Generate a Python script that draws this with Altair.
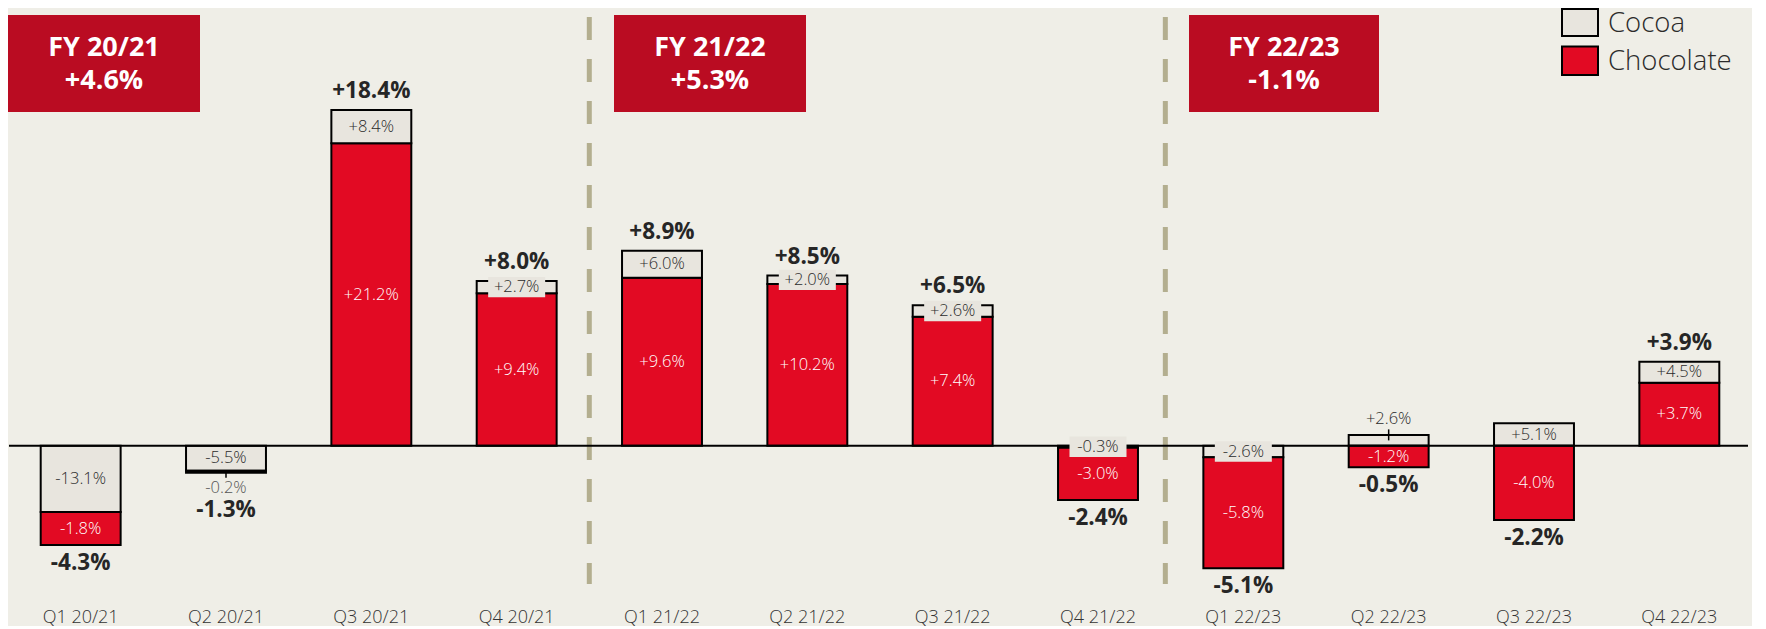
import altair as alt
import pandas as pd

# ---------------- data ----------------
quarters = ["Q1 20/21", "Q2 20/21", "Q3 20/21", "Q4 20/21",
            "Q1 21/22", "Q2 21/22", "Q3 21/22", "Q4 21/22",
            "Q1 22/23", "Q2 22/23", "Q3 22/23", "Q4 22/23"]
# contribution of each segment (bar heights)
cocoa_contrib = [-3.32, -1.25, 1.67, 0.62, 1.35, 0.43, 0.57, -0.10, -0.58, 0.53, 1.12, 1.05]
choc_contrib = [-1.65, -0.10, 15.12, 7.62, 8.40, 8.08, 6.45, -2.62, -5.55, -1.08, -3.72, 3.15]
# growth labels
cocoa_labels = ["-13.1%", "-5.5%", "+8.4%", "+2.7%", "+6.0%", "+2.0%", "+2.6%",
                "-0.3%", "-2.6%", "+2.6%", "+5.1%", "+4.5%"]
choc_labels = ["-1.8%", "-0.2%", "+21.2%", "+9.4%", "+9.6%", "+10.2%", "+7.4%",
               "-3.0%", "-5.8%", "-1.2%", "-4.0%", "+3.7%"]
total_labels = ["-4.3%", "-1.3%", "+18.4%", "+8.0%", "+8.9%", "+8.5%", "+6.5%",
                "-2.4%", "-5.1%", "-0.5%", "-2.2%", "+3.9%"]
fy_names = ["FY 20/21", "FY 21/22", "FY 22/23"]
fy_growth = ["+4.6%", "+5.3%", "-1.1%"]
series = ["Cocoa", "Chocolate"]
fy_first_quarter = ["Q1 21/22", "Q1 22/23"]

# label placement hints (layout, not data)
cocoa_place = ["in", "in", "in", "box", "in", "box", "box", "box", "box", "above", "in", "in"]
choc_place = ["in", "below", "in", "in", "in", "in", "in", "in", "in", "in", "in", "in"]

# ---------------- styles ----------------
FONT = "Open Sans"
BG = "#EFEEE7"
CHOC = "#E20A23"
COCOA = "#E8E5DE"
BOXRED = "#BA0C22"
DASH = "#B3AE8F"
DARK = "#262626"
W, H = 1744, 598
Y_DOMAIN = [-8.015, 21.885]

# ---------------- build tables ----------------
seg_rows, tot_rows = [], []
for i, q in enumerate(quarters):
    vals = {"Cocoa": cocoa_contrib[i], "Chocolate": choc_contrib[i]}
    labs = {"Cocoa": cocoa_labels[i], "Chocolate": choc_labels[i]}
    place = {"Cocoa": cocoa_place[i], "Chocolate": choc_place[i]}
    pos = neg = 0.0
    for s in ["Chocolate", "Cocoa"]:
        v = vals[s]
        if v > 0:
            seg_rows.append(dict(quarter=q, series=s, lo=pos, hi=pos + v, label=labs[s], place=place[s]))
            pos += v
    for s in ["Cocoa", "Chocolate"]:
        v = vals[s]
        if v < 0:
            seg_rows.append(dict(quarter=q, series=s, lo=neg, hi=neg + v, label=labs[s], place=place[s]))
            neg += v
    positive = total_labels[i].startswith("+")
    kind = "pos" if positive else ("far" if "below" in (cocoa_place[i], choc_place[i]) else "neg")
    tot_rows.append(dict(quarter=q, label=total_labels[i], anchor=pos if positive else neg, kind=kind))

seg = pd.DataFrame(seg_rows)
seg["mid"] = (seg["lo"] + seg["hi"]) / 2
seg["tcolor"] = [
    "#555555" if p == "below" else ("#FFFFFF" if s == "Chocolate" else "#2B2B2B")
    for s, p in zip(seg["series"], seg["place"])
]
tot = pd.DataFrame(tot_rows)

X_ENC = alt.X(
    "quarter:N", sort=quarters,
    scale=alt.Scale(domain=quarters, paddingInner=0.45, paddingOuter=0.225),
    axis=alt.Axis(title=None, labelAngle=0, domain=False, ticks=False, grid=False,
                  labelPadding=11, labelFontSize=18, labelFont=FONT, labelColor="#333333",
                  labelBaseline="middle", labelFontWeight=300),
)
Y_SCALE = alt.Scale(domain=Y_DOMAIN, nice=False, zero=False)


def Y(field):
    return alt.Y(field, type="quantitative", scale=Y_SCALE, axis=None)


layers = []

# dashed fiscal-year separators
for q, off in zip(fy_first_quarter, [-72.7, -78.0]):
    layers.append(alt.Chart(pd.DataFrame({"quarter": [q]})).mark_rule(
        color=DASH, strokeWidth=5, strokeDash=[23, 19], xOffset=off
    ).encode(x=X_ENC, y=alt.value(9), y2=alt.value(576)))

# FY boxes
box_x = [(0, 192), (606, 798), (1181, 1371)]
for i, (n, g) in enumerate(zip(fy_names, fy_growth)):
    d = pd.DataFrame({"n": [n], "g": [g]})
    x0, x1 = box_x[i]
    layers.append(alt.Chart(d).mark_rect(color=BOXRED).encode(
        x=alt.value(x0), x2=alt.value(x1), y=alt.value(7), y2=alt.value(104)))
    layers.append(alt.Chart(d).mark_text(font=FONT, fontSize=27, fontWeight="bold", color="white",
                                         baseline="middle", align="center").encode(
        x=alt.value((x0 + x1) / 2), y=alt.value(40), text="n:N"))
    layers.append(alt.Chart(d).mark_text(font=FONT, fontSize=27, fontWeight="bold", color="white",
                                         baseline="middle", align="center").encode(
        x=alt.value((x0 + x1) / 2), y=alt.value(73), text="g:N"))

# bars
bars = alt.Chart(seg).mark_bar(stroke="black", strokeWidth=2, opacity=1).encode(
    x=X_ENC, y=Y("lo"), y2="hi",
    color=alt.Color("series:N", scale=alt.Scale(domain=series, range=[COCOA, CHOC]), legend=None),
)
layers.append(bars)

# zero line
zero = alt.Chart(pd.DataFrame({"z": [0.0]})).mark_rule(color="black", strokeWidth=2).encode(
    y=Y("z"), x=alt.value(1), x2=alt.value(1740))
layers.append(zero)

# leader ticks for outside labels
layers.append(alt.Chart(seg[seg["place"] == "above"]).mark_point(
    shape="M0,0L0,-1", size=484, filled=False, stroke="black", strokeWidth=1.5, opacity=1
).encode(x=X_ENC, y=Y("mid")))
layers.append(alt.Chart(seg[seg["place"] == "below"]).mark_point(
    shape="M0,0L0,1", size=144, filled=False, stroke="black", strokeWidth=1.5, opacity=1
).encode(x=X_ENC, y=Y("mid")))

# background boxes for labels of thin segments
layers.append(alt.Chart(seg[seg["place"] == "box"]).mark_point(
    shape="M-1,-0.357L1,-0.357L1,0.357L-1,0.357Z", size=3249, filled=True, fill=COCOA,
    strokeWidth=0, opacity=1
).encode(x=X_ENC, y=Y("mid")))

# segment labels
for places, dy in ((["in", "box"], 0), (["above"], -21), (["below"], 16)):
    d = seg[seg["place"].isin(places)]
    layers.append(alt.Chart(d).mark_text(font=FONT, fontSize=16.5, fontWeight=300, baseline="middle",
                                         align="center", dy=dy).encode(
        x=X_ENC, y=Y("mid"), text="label:N", color=alt.Color("tcolor:N", scale=None)))

# total labels
for kind, dy in (("pos", -19), ("neg", 18), ("far", 37)):
    d = tot[tot["kind"] == kind]
    layers.append(alt.Chart(d).mark_text(font=FONT, fontSize=22.5, fontWeight="bold", color=DARK,
                                         baseline="middle", align="center", dy=dy).encode(
        x=X_ENC, y=Y("anchor"), text="label:N"))

# legend
leg_y = [(1, 28), (38.5, 67)]
leg_ty = [15.5, 53.7]
for i, (name, col) in enumerate(zip(series, [COCOA, CHOC])):
    d = pd.DataFrame({"name": [name]})
    y0, y1 = leg_y[i]
    layers.append(alt.Chart(d).mark_rect(fill=col, stroke="black", strokeWidth=2).encode(
        x=alt.value(1554), x2=alt.value(1590), y=alt.value(y0), y2=alt.value(y1)))
    layers.append(alt.Chart(d).mark_text(font=FONT, fontSize=27.5, fontWeight=300, color="#2B2B2B",
                                         baseline="middle", align="left").encode(
        x=alt.value(1600), y=alt.value(leg_ty[i]), text="name:N"))

chart = alt.layer(*layers).properties(
    width=W, height=H, background=BG, padding=0
).configure_view(stroke=None)

chart.save("out.html", embed_options={"renderer": "svg", "actions": False})
